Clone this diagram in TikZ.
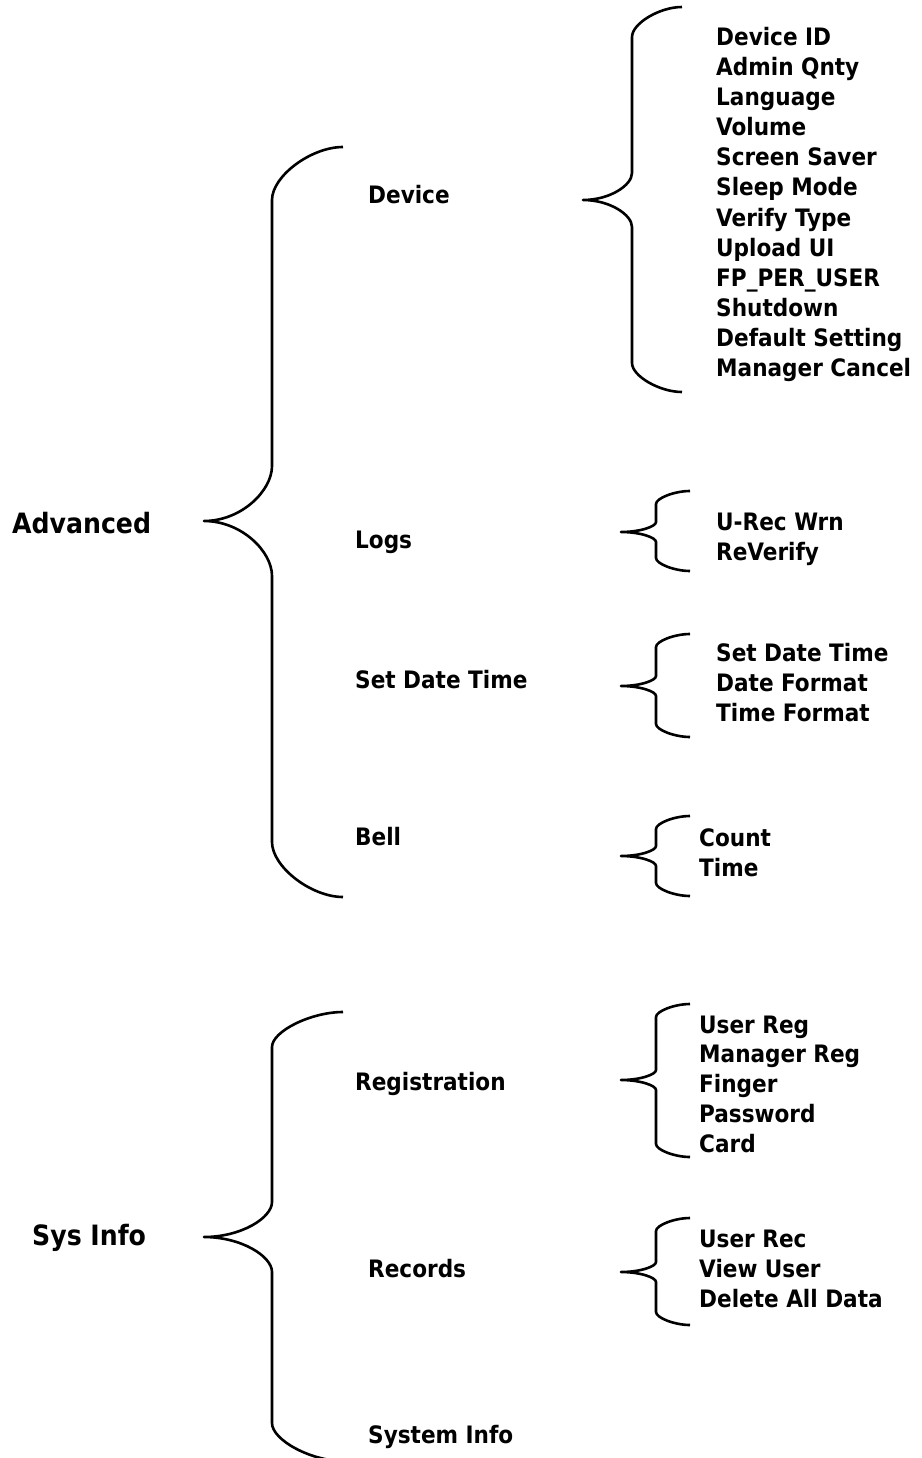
\documentclass[tikz,border=0pt]{standalone}
\usepackage{fontspec}
\setmainfont{DejaVu Sans Condensed}[BoldFont={DejaVu Sans Condensed Bold}]
% #1 x of ends, #2 y top end, #3 y bottom end, #4 x of vertical, #5 x of tip, #6 y of tip,
% #7 radius at top end, #8 radius at tip, #9 radius at bottom end
\newcommand\mybrace[9]{%
  \draw[brace] (#1,#2) .. controls ({#4+0.55*(#1-#4)},#2) and (#4,{#2+0.55*#7}) .. (#4,{#2+#7})
    -- (#4,{#6-#8}) .. controls (#4,{#6-0.55*#8}) and ({#5+0.55*(#4-#5)},#6) .. (#5,#6)
    .. controls ({#5+0.55*(#4-#5)},#6) and (#4,{#6+0.55*#8}) .. (#4,{#6+#8})
    -- (#4,{#3-#9}) .. controls (#4,{#3-0.55*#9}) and ({#4+0.55*(#1-#4)},#3) .. (#1,#3);}
\begin{document}
\begin{tikzpicture}[x=1pt,y=-1pt,
  brace/.style={draw=black,line width=2.6pt,line join=round},
  lbl/.style={anchor=base west,inner sep=0pt,font=\fontsize{24}{28}\selectfont\bfseries},
  root/.style={anchor=base west,inner sep=0pt,font=\fontsize{28}{32}\selectfont\bfseries}]
\useasboundingbox (0,0) rectangle (921,1458);
\clip (0,0) rectangle (921,1458);

% roots
\node[root] (adv) at (12,533) {Advanced};
\node[root] (sys) at (32,1245) {Sys Info};

% second level
\node[lbl] (device) at (368,204) {Device};
\node[lbl] (logs) at (355,548) {Logs};
\node[lbl] (sdt) at (355,688) {Set Date Time};
\node[lbl] (bell) at (355,845) {Bell};
\node[lbl] (reg) at (355,1090) {Registration};
\node[lbl] (rec) at (368,1277) {Records};
\node[lbl] (sinfo) at (368,1443) {System Info};

% third level
\foreach \t [count=\i from 0] in {Device ID,Admin Qnty,Language,Volume,Screen Saver,Sleep Mode,Verify Type,Upload UI,FP\_PER\_USER,Shutdown,Default Setting,Manager Cancel}
  \node[lbl] (dv\i) at (716,{46+30*\i}) {\t};
\foreach \t [count=\i from 0] in {U-Rec Wrn,ReVerify}
  \node[lbl] (lg\i) at (716,{530+30*\i}) {\t};
\foreach \t [count=\i from 0] in {Set Date Time,Date Format,Time Format}
  \node[lbl] (dt\i) at (716,{661+30*\i}) {\t};
\foreach \t [count=\i from 0] in {Count,Time}
  \node[lbl] (bl\i) at (699,{846+30*\i}) {\t};
\foreach \t [count=\i from 0] in {User Reg,Manager Reg,Finger,Password,Card}
  \node[lbl] (rg\i) at (699,{1033+29.8*\i}) {\t};
\foreach \t [count=\i from 0] in {User Rec,View User,Delete All Data}
  \node[lbl] (rc\i) at (699,{1247+30*\i}) {\t};

% braces
\mybrace{343}{147}{897}{272}{204}{521}{53}{55}{55}
\mybrace{343}{1012}{1461}{272}{204}{1237}{35}{35}{38}
\mybrace{682}{7}{392}{632}{583}{200}{30}{27}{29}
\mybrace{690}{491}{571}{656}{621}{532}{13}{10}{13}
\mybrace{690}{634}{737}{656}{621}{686}{13}{10}{13}
\mybrace{690}{816}{896}{656}{621}{856}{13}{10}{13}
\mybrace{690}{1004}{1157}{656}{621}{1080}{13}{10}{13}
\mybrace{690}{1218}{1325}{656}{621}{1272}{13}{10}{13}
\end{tikzpicture}
\end{document}
